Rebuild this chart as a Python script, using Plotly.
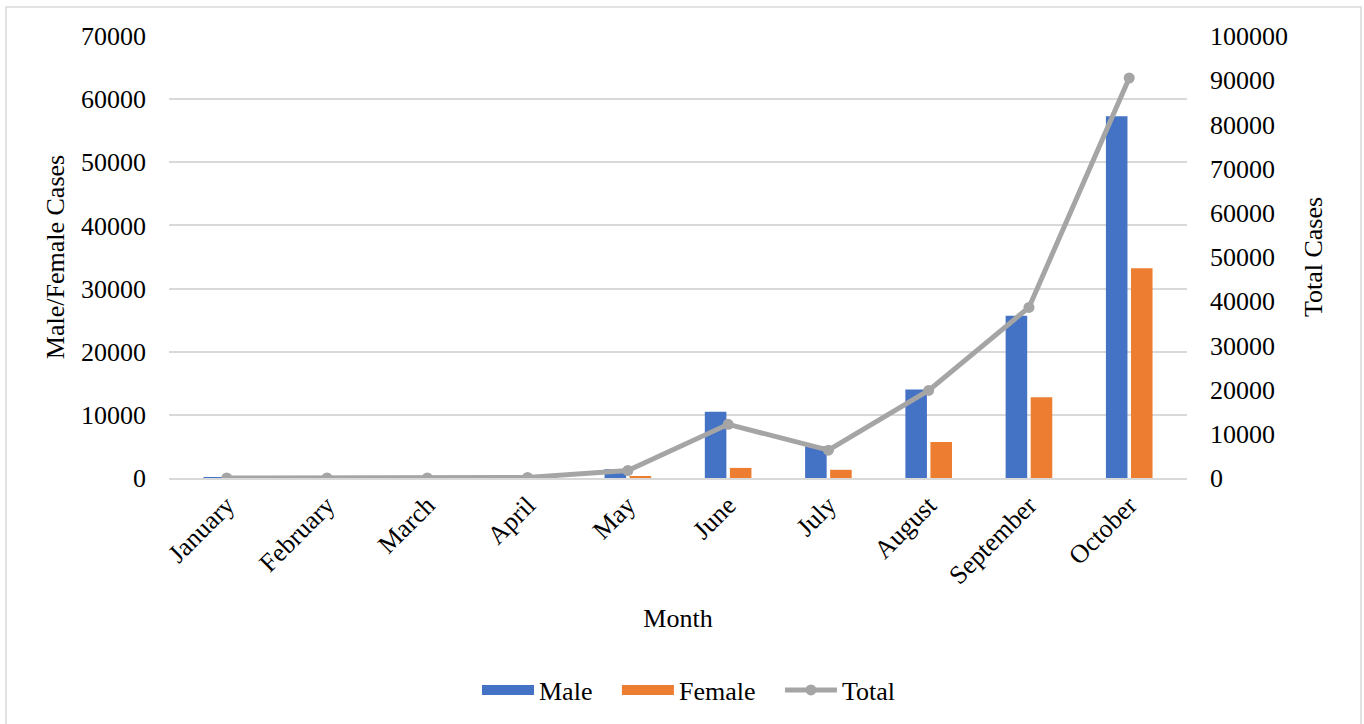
import plotly.graph_objects as go

months = ["January", "February", "March", "April", "May", "June", "July",
          "August", "September", "October"]
male = [1, 0, 10, 100, 1400, 10500, 5000, 14000, 25700, 57300]
female = [0, 0, 2, 40, 250, 1600, 1300, 5700, 12800, 33200]
total = [1, 0, 12, 140, 1700, 12150, 6300, 19800, 38600, 90500]

MALE_C, FEMALE_C, TOTAL_C = "#4472c4", "#ed7d31", "#a5a5a5"
FONT = "Liberation Serif"
FS = 26      # tick / legend text
FT = 26      # axis titles
L, R, T, B = 169, 177, 36, 246
PW, PH = 1364 - L - R, 724 - T - B
PAD = "\u00a0\u00a0\u00a0"

fig = go.Figure()
fig.add_trace(go.Bar(x=months, y=male, name="Male", marker_color=MALE_C,
                     marker_line_width=0, showlegend=False))
fig.add_trace(go.Bar(x=months, y=female, name="Female", marker_color=FEMALE_C,
                     marker_line_width=0, showlegend=False))
fig.add_trace(go.Scatter(x=months, y=total, name="Total", yaxis="y2",
                         mode="lines+markers", showlegend=False,
                         line=dict(color=TOTAL_C, width=5),
                         marker=dict(color=TOTAL_C, size=11)))
# legend-only entries with wide swatches
fig.add_trace(go.Scatter(x=[None], y=[None], name="Male" + PAD, mode="lines",
                         line=dict(color=MALE_C, width=14)))
fig.add_trace(go.Scatter(x=[None], y=[None], name="Female" + PAD, mode="lines",
                         line=dict(color=FEMALE_C, width=14)))
fig.add_trace(go.Scatter(x=[None], y=[None], name="Total", mode="lines+markers",
                         line=dict(color=TOTAL_C, width=5),
                         marker=dict(color=TOTAL_C, size=11)))

fig.update_layout(
    width=1364, height=724,
    margin=dict(l=L, r=R, t=T, b=B, autoexpand=False),
    paper_bgcolor="white", plot_bgcolor="white",
    font=dict(family=FONT, size=FS, color="black"),
    barmode="group", bargap=0.5, bargroupgap=0.14,
    showlegend=True,
    legend=dict(orientation="h", x=(689 - L) / PW, xanchor="center",
                y=(478 - 690) / PH, yanchor="middle",
                font=dict(size=FS), itemwidth=52, tracegroupgap=0),
    xaxis=dict(tickangle=-45, showgrid=False, ticks="", showline=True,
               linecolor="#d9d9d9", linewidth=1.5,
               title=dict(text="Month", standoff=20, font=dict(size=FT)),
               automargin=False),
    yaxis=dict(range=[0, 70000], dtick=10000, showgrid=True, gridcolor="#d9d9d9",
               gridwidth=1.5, zeroline=False, ticks="", showline=False,
               tickformat="d", automargin=False,
               title=dict(text="Male/Female Cases", standoff=8, font=dict(size=FT)),
               ticklabelstandoff=22),
    yaxis2=dict(range=[0, 100000], dtick=10000, overlaying="y", side="right",
                showgrid=False, zeroline=False, ticks="", showline=False,
                tickformat="d", automargin=False,
                title=dict(text="Total Cases", standoff=16, font=dict(size=FT)),
                ticklabelstandoff=22),
    shapes=[dict(type="rect", xref="paper", yref="paper",
                 x0=(6 - L) / PW, x1=(1361 - L) / PW,
                 y0=(478 - 730) / PH, y1=(478 - 7) / PH,
                 line=dict(color="#d9d9d9", width=1.5), layer="below")],
)
fig.write_html("out.html")
